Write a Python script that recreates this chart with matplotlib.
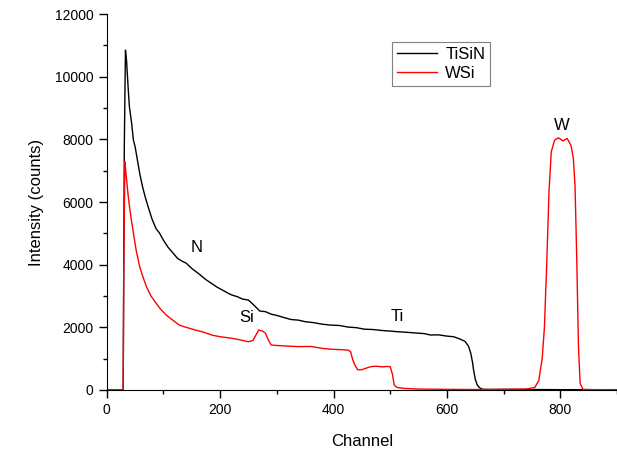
import matplotlib
matplotlib.use("Agg")
import matplotlib.pyplot as plt
from matplotlib.ticker import MultipleLocator

plt.rcParams['font.family'] = ['Liberation Sans', 'DejaVu Sans']

# TiSiN spectrum (channel, counts)
tisin_ch = [0, 29, 31, 33, 35, 38, 40, 44, 47, 50, 54, 58, 63, 68, 73, 80, 87, 93,
            100, 108, 117, 125, 133, 140, 150, 163, 175, 185, 193, 205, 215, 221,
            230, 240, 250, 260, 270, 280, 290, 300, 315, 325, 338, 350, 365, 380,
            396, 410, 425, 440, 455, 470, 485, 500, 513, 530, 545, 560, 571, 585,
            600, 612, 624, 632, 638, 642, 645, 647, 650, 653, 656, 660, 665, 675,
            700, 750, 800, 850, 900]
tisin_cnt = [0, 0, 7800, 10850, 10500, 9575, 9040, 8500, 7980, 7770, 7350, 6930,
             6500, 6150, 5850, 5450, 5150, 5010, 4780, 4560, 4370, 4200, 4110, 4050,
             3880, 3700, 3520, 3400, 3300, 3180, 3080, 3030, 2980, 2900, 2870, 2700,
             2520, 2500, 2420, 2380, 2300, 2250, 2230, 2180, 2150, 2100, 2070, 2060,
             2010, 1990, 1940, 1930, 1900, 1880, 1860, 1840, 1820, 1800, 1755, 1760,
             1720, 1700, 1620, 1550, 1400, 1180, 900, 640, 350, 180, 100, 40, 20, 15,
             20, 15, 10, 10, 10]

# WSi spectrum
wsi_ch = [0, 29, 30, 32, 34, 38, 42, 47, 52, 58, 64, 70, 78, 87, 95, 105, 115, 128,
          140, 157, 170, 186, 200, 221, 235, 250, 258, 263, 268, 275, 280, 285, 290,
          300, 320, 338, 360, 380, 396, 410, 425, 430, 434, 438, 443, 450, 458, 466,
          475, 485, 495, 500, 504, 507, 512, 525, 550, 600, 650, 700, 740, 755, 762,
          768, 772, 776, 780, 784, 790, 797, 805, 812, 819, 823, 826, 829, 832, 835,
          840, 860, 900]
wsi_cnt = [0, 0, 4000, 7290, 6900, 6170, 5600, 5010, 4450, 3940, 3600, 3300, 3000,
           2770, 2580, 2390, 2250, 2070, 2000, 1910, 1850, 1750, 1700, 1650, 1600,
           1540, 1580, 1750, 1915, 1880, 1810, 1600, 1435, 1420, 1400, 1385, 1390,
           1330, 1300, 1290, 1275, 1230, 960, 780, 640, 650, 700, 745, 760, 740, 750,
           745, 500, 160, 80, 50, 30, 20, 15, 20, 30, 80, 300, 1000, 2000, 4000, 6300,
           7600, 7980, 8050, 7950, 8030, 7800, 7400, 6500, 4200, 1400, 210, 20, 10, 5]

# element labels
elem_names = ['N', 'Si', 'Ti', 'W']
elem_ch = [158, 247, 513, 802]
elem_cnt = [4560, 2300, 2360, 8430]

fig = plt.figure(figsize=(6.17, 4.54), dpi=100)
ax = fig.add_axes([0.173, 0.141, 0.827, 0.828])

ax.plot(tisin_ch, tisin_cnt, color='black', lw=1.0, label='TiSiN')
ax.plot(wsi_ch, wsi_cnt, color='red', lw=1.0, label='WSi')

for name, cx, cy in zip(elem_names, elem_ch, elem_cnt):
    ax.text(cx, cy, name, fontsize=12, ha='center', va='center')

ax.set_xlim(0, 900)
ax.set_ylim(0, 12000)
ax.xaxis.set_major_locator(MultipleLocator(200))
ax.xaxis.set_minor_locator(MultipleLocator(100))
ax.yaxis.set_major_locator(MultipleLocator(2000))
ax.yaxis.set_minor_locator(MultipleLocator(1000))
ax.tick_params(which='major', direction='out', length=6, width=1, labelsize=10)
ax.tick_params(which='minor', direction='out', length=3, width=1)
ax.spines['top'].set_visible(False)
ax.spines['right'].set_visible(False)

ax.set_xlabel('Channel', fontsize=12, labelpad=12)
ax.set_ylabel('Intensity (counts)', fontsize=12, labelpad=8)

leg = ax.legend(loc='upper left', bbox_to_anchor=(0.559, 0.925), fontsize=12,
                handlelength=2.4, fancybox=False, framealpha=1,
                borderaxespad=0, borderpad=0.3, labelspacing=0.2, handletextpad=0.5)
leg.get_frame().set_edgecolor('gray')
leg.get_frame().set_linewidth(0.8)

fig.savefig('out.png', dpi=100)
